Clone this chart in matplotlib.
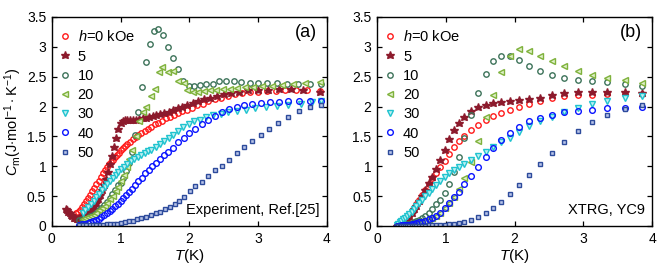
import matplotlib
matplotlib.use("Agg")
import matplotlib.pyplot as plt
from matplotlib.ticker import FormatStrFormatter, MultipleLocator

plt.rcParams['font.family'] = ['Liberation Sans', 'DejaVu Sans']
plt.rcParams['mathtext.fontset'] = 'custom'
plt.rcParams['mathtext.it'] = 'Liberation Sans:italic'
plt.rcParams['mathtext.rm'] = 'Liberation Sans'

# ---------------- (a) experiment, Ref.[25] ----------------
a_T0 = [0.35, 0.38, 0.41, 0.44, 0.47, 0.50, 0.53, 0.56, 0.59, 0.62, 0.65, 0.68, 0.71, 0.74, 0.77,
        0.80, 0.83, 0.86, 0.89, 0.92, 0.95, 0.98, 1.01, 1.04, 1.07, 1.10, 1.14, 1.18, 1.22, 1.26,
        1.30, 1.35, 1.40, 1.45, 1.50, 1.55, 1.60, 1.66, 1.72, 1.78, 1.84, 1.90, 1.97, 2.04, 2.12,
        2.20, 2.28, 2.37, 2.46, 2.56, 2.66, 2.77, 2.88, 3.00, 3.13, 3.26, 3.40, 3.55, 3.72, 3.90]
a_C0 = [0.22, 0.24, 0.27, 0.31, 0.36, 0.41, 0.46, 0.52, 0.58, 0.64, 0.70, 0.76, 0.82, 0.88, 0.93,
        0.98, 1.03, 1.07, 1.11, 1.15, 1.19, 1.23, 1.27, 1.30, 1.34, 1.37, 1.41, 1.45, 1.49, 1.52,
        1.55, 1.59, 1.63, 1.66, 1.70, 1.73, 1.76, 1.80, 1.83, 1.86, 1.89, 1.92, 1.95, 1.98, 2.02,
        2.05, 2.09, 2.12, 2.15, 2.18, 2.21, 2.23, 2.24, 2.25, 2.26, 2.26, 2.27, 2.27, 2.27, 2.26]

a_T5 = [0.20, 0.22, 0.24, 0.26, 0.28, 0.30, 0.32, 0.34, 0.36, 0.38, 0.40, 0.43, 0.46, 0.49, 0.52,
        0.55, 0.58, 0.61, 0.64, 0.67, 0.70, 0.73, 0.76, 0.79, 0.82, 0.85, 0.88, 0.91, 0.94, 0.97,
        1.00, 1.03, 1.06, 1.10, 1.14, 1.18, 1.22, 1.27, 1.32, 1.37, 1.42, 1.47, 1.52, 1.58, 1.64,
        1.70, 1.76, 1.83, 1.90, 1.97, 2.05, 2.13, 2.21, 2.30, 2.40, 2.50, 2.61, 2.73, 2.86, 3.00,
        3.15, 3.31, 3.48, 3.66, 3.90]
a_C5 = [0.29, 0.27, 0.24, 0.21, 0.18, 0.16, 0.14, 0.13, 0.12, 0.12, 0.13, 0.14, 0.16, 0.18, 0.21,
        0.24, 0.28, 0.33, 0.38, 0.45, 0.52, 0.60, 0.68, 0.78, 0.90, 1.03, 1.17, 1.32, 1.48, 1.62,
        1.72, 1.76, 1.77, 1.77, 1.77, 1.78, 1.78, 1.79, 1.80, 1.81, 1.82, 1.84, 1.85, 1.87, 1.89,
        1.91, 1.94, 1.97, 2.00, 2.03, 2.06, 2.09, 2.12, 2.15, 2.18, 2.21, 2.23, 2.25, 2.27, 2.28,
        2.28, 2.29, 2.29, 2.28, 2.25]

a_T10 = [0.40, 0.44, 0.48, 0.52, 0.56, 0.60, 0.64, 0.68, 0.72, 0.76, 0.80, 0.84, 0.88, 0.92, 0.96,
         1.00, 1.04, 1.08, 1.12, 1.16, 1.21, 1.26, 1.31, 1.37, 1.43, 1.49, 1.55, 1.62, 1.69, 1.76,
         1.83, 1.91, 1.99, 2.07, 2.16, 2.25, 2.34, 2.44, 2.54, 2.65, 2.76, 2.88, 3.00, 3.13, 3.27,
         3.42, 3.58, 3.75, 3.92]
a_C10 = [0.10, 0.11, 0.12, 0.14, 0.16, 0.19, 0.22, 0.26, 0.30, 0.35, 0.40, 0.46, 0.53, 0.60, 0.68,
         0.72, 0.80, 0.92, 1.06, 1.24, 1.52, 1.90, 2.32, 2.74, 3.04, 3.27, 3.29, 3.19, 3.00, 2.81,
         2.63, 2.43, 2.35, 2.35, 2.36, 2.37, 2.38, 2.43, 2.43, 2.43, 2.41, 2.40, 2.40, 2.39, 2.39,
         2.38, 2.38, 2.37, 2.38]

a_T20 = [0.45, 0.49, 0.53, 0.57, 0.61, 0.65, 0.69, 0.73, 0.77, 0.81, 0.85, 0.89, 0.93, 0.97, 1.01,
         1.05, 1.09, 1.13, 1.17, 1.22, 1.27, 1.32, 1.37, 1.44, 1.50, 1.56, 1.61, 1.69, 1.76, 1.84,
         1.92, 1.97, 2.05, 2.13, 2.21, 2.30, 2.39, 2.49, 2.59, 2.70, 2.81, 2.93, 3.06, 3.20, 3.35,
         3.51, 3.68, 3.90]
a_C20 = [0.12, 0.13, 0.15, 0.17, 0.19, 0.22, 0.26, 0.30, 0.34, 0.39, 0.45, 0.51, 0.58, 0.66, 0.76,
         0.86, 0.98, 1.12, 1.28, 1.50, 1.76, 1.90, 2.00, 2.17, 2.29, 2.57, 2.67, 2.58, 2.60, 2.43,
         2.40, 2.27, 2.25, 2.25, 2.26, 2.27, 2.28, 2.29, 2.30, 2.31, 2.32, 2.33, 2.34, 2.35, 2.36,
         2.38, 2.40, 2.41]

a_T30 = [0.45, 0.49, 0.53, 0.57, 0.61, 0.65, 0.69, 0.73, 0.77, 0.81, 0.85, 0.89, 0.93, 0.97, 1.01,
         1.05, 1.10, 1.15, 1.20, 1.25, 1.30, 1.35, 1.40, 1.45, 1.51, 1.57, 1.63, 1.70, 1.77, 1.84,
         1.91, 1.99, 2.07, 2.16, 2.25, 2.35, 2.46, 2.57, 2.69, 2.82, 2.96, 3.11, 3.27, 3.44, 3.62,
         3.78, 3.92]
a_C30 = [0.22, 0.27, 0.32, 0.37, 0.42, 0.48, 0.54, 0.60, 0.66, 0.71, 0.76, 0.81, 0.86, 0.90, 0.95,
         0.99, 1.03, 1.08, 1.12, 1.16, 1.19, 1.22, 1.25, 1.28, 1.32, 1.37, 1.42, 1.47, 1.53, 1.59,
         1.65, 1.70, 1.75, 1.78, 1.82, 1.85, 1.87, 1.90, 1.93, 1.95, 1.97, 1.99, 2.01, 2.03, 2.05,
         2.07, 2.09]

a_T40 = [0.40, 0.44, 0.48, 0.52, 0.56, 0.60, 0.64, 0.68, 0.72, 0.76, 0.80, 0.84, 0.88, 0.92, 0.96,
         1.00, 1.04, 1.08, 1.12, 1.16, 1.21, 1.26, 1.31, 1.36, 1.41, 1.46, 1.51, 1.57, 1.63, 1.69,
         1.76, 1.84, 1.92, 2.00, 2.08, 2.18, 2.27, 2.37, 2.47, 2.58, 2.69, 2.79, 2.91, 3.04, 3.17,
         3.30, 3.44, 3.59, 3.75, 3.91]
a_C40 = [0.02, 0.03, 0.04, 0.05, 0.06, 0.08, 0.10, 0.12, 0.15, 0.18, 0.21, 0.25, 0.29, 0.33, 0.37,
         0.42, 0.47, 0.52, 0.57, 0.62, 0.68, 0.75, 0.81, 0.88, 0.94, 1.00, 1.06, 1.12, 1.18, 1.24,
         1.30, 1.40, 1.48, 1.55, 1.63, 1.71, 1.78, 1.84, 1.90, 1.96, 2.00, 2.02, 2.04, 2.06, 2.07,
         2.08, 2.09, 2.09, 2.10, 2.10]

a_T50 = [0.40, 0.45, 0.50, 0.55, 0.60, 0.65, 0.70, 0.75, 0.80, 0.85, 0.90, 0.95, 1.00, 1.06, 1.12,
         1.18, 1.24, 1.30, 1.37, 1.44, 1.51, 1.58, 1.65, 1.72, 1.79, 1.85, 1.92, 2.01, 2.09, 2.18,
         2.27, 2.37, 2.47, 2.58, 2.69, 2.79, 2.91, 3.04, 3.16, 3.29, 3.44, 3.59, 3.75, 3.91]
a_C50 = [0.01, 0.01, 0.01, 0.01, 0.01, 0.02, 0.02, 0.02, 0.03, 0.03, 0.03, 0.04, 0.05, 0.06, 0.08,
         0.09, 0.11, 0.13, 0.15, 0.18, 0.21, 0.24, 0.28, 0.32, 0.37, 0.42, 0.49, 0.59, 0.67, 0.74,
         0.83, 0.93, 1.01, 1.11, 1.22, 1.32, 1.42, 1.52, 1.62, 1.72, 1.83, 1.92, 2.00, 2.03]

# ---------------- (b) XTRG, YC9 ----------------
b_T = [0.29, 0.31, 0.33, 0.35, 0.38, 0.40, 0.43, 0.46, 0.50, 0.53, 0.57, 0.61, 0.65, 0.70, 0.75,
       0.80, 0.85, 0.91, 0.98, 1.05, 1.12, 1.19, 1.27, 1.37, 1.47, 1.58, 1.69, 1.80, 1.93, 2.07,
       2.21, 2.37, 2.54, 2.72, 2.92, 3.13, 3.35, 3.60, 3.86]
b_C0 = [0.00, 0.01, 0.02, 0.04, 0.06, 0.09, 0.12, 0.17, 0.23, 0.29, 0.36, 0.44, 0.52, 0.61, 0.71,
        0.80, 0.89, 0.99, 1.09, 1.20, 1.32, 1.42, 1.51, 1.60, 1.69, 1.77, 1.84, 1.89, 1.94, 2.00,
        2.05, 2.10, 2.14, 2.17, 2.19, 2.20, 2.21, 2.21, 2.21]
b_C5 = [0.00, 0.02, 0.03, 0.05, 0.07, 0.09, 0.12, 0.16, 0.22, 0.28, 0.34, 0.42, 0.50, 0.60, 0.72,
        0.82, 0.95, 1.10, 1.27, 1.45, 1.60, 1.72, 1.83, 1.93, 1.99, 2.03, 2.06, 2.08, 2.10, 2.11,
        2.13, 2.15, 2.19, 2.22, 2.24, 2.25, 2.25, 2.24, 2.23]
b_C10 = [0.00, 0.00, 0.01, 0.01, 0.02, 0.02, 0.03, 0.04, 0.05, 0.06, 0.08, 0.10, 0.13, 0.17, 0.22,
         0.29, 0.36, 0.44, 0.55, 0.70, 0.90, 1.15, 1.48, 1.86, 2.22, 2.55, 2.76, 2.85, 2.84, 2.78,
         2.68, 2.60, 2.53, 2.48, 2.45, 2.43, 2.41, 2.38, 2.35]
b_C20 = [0.00, 0.00, 0.00, 0.01, 0.01, 0.01, 0.02, 0.02, 0.03, 0.03, 0.04, 0.05, 0.06, 0.08, 0.10,
         0.13, 0.17, 0.22, 0.30, 0.38, 0.48, 0.62, 0.81, 1.07, 1.42, 1.82, 2.20, 2.58, 2.85, 2.97,
         2.93, 2.85, 2.77, 2.68, 2.59, 2.53, 2.48, 2.44, 2.40]
b_C30 = [0.02, 0.04, 0.06, 0.08, 0.11, 0.13, 0.16, 0.20, 0.24, 0.28, 0.33, 0.38, 0.43, 0.50, 0.56,
         0.62, 0.68, 0.75, 0.82, 0.88, 0.93, 0.99, 1.04, 1.10, 1.17, 1.24, 1.32, 1.40, 1.48, 1.58,
         1.67, 1.75, 1.82, 1.90, 1.98, 2.05, 2.10, 2.14, 2.17]
b_C40 = [0.00, 0.00, 0.00, 0.01, 0.01, 0.01, 0.02, 0.02, 0.03, 0.04, 0.05, 0.06, 0.07, 0.09, 0.11,
         0.14, 0.17, 0.22, 0.30, 0.38, 0.48, 0.57, 0.70, 0.84, 0.99, 1.15, 1.30, 1.44, 1.56, 1.66,
         1.75, 1.81, 1.86, 1.90, 1.93, 1.95, 1.97, 1.98, 2.00]
b_C50 = [0.00, 0.00, 0.00, 0.00, 0.00, 0.00, 0.00, 0.00, 0.00, 0.00, 0.00, 0.00, 0.00, 0.00, 0.01,
         0.01, 0.01, 0.01, 0.02, 0.03, 0.04, 0.05, 0.07, 0.10, 0.15, 0.22, 0.30, 0.40, 0.53, 0.69,
         0.85, 1.03, 1.22, 1.41, 1.59, 1.74, 1.86, 1.96, 2.02]

labels = ['$h$=0 kOe', '5', '10', '20', '30', '40', '50']
colors = ['#ff1a1a', '#8c1a2c', '#3d735a', '#7fb23c', '#1fc3cf', '#0a14ff', '#2d4b9c']
markers = ['o', '*', 'o', '<', 'v', 'o', 's']
sizes = [3.9, 6.2, 3.9, 4.5, 4.5, 4.1, 3.0]
faces = ['none', None, 'none', '#dff0c8', '#bff0f2', 'none', '#b8c4e8']


def style(ax, letter, note, ylabel):
    ax.set_xlim(0, 4)
    ax.set_ylim(0, 3.5)
    ax.xaxis.set_major_locator(MultipleLocator(1))
    ax.yaxis.set_major_locator(MultipleLocator(0.5))
    ax.yaxis.set_major_formatter(FormatStrFormatter('%g'))
    ax.tick_params(direction='in', top=True, right=True, labelsize=10, length=3.5, width=0.9, pad=4)
    for s in ax.spines.values():
        s.set_linewidth(1.0)
    ax.set_xlabel('$T$(K)', fontsize=11, labelpad=1)
    if ylabel:
        ax.set_ylabel(r'$C_\mathrm{m}$(J$\cdot$mol$^{-1}\cdot$K$^{-1}$)', fontsize=10.5, labelpad=2)
    ax.text(0.965, 0.965, letter, transform=ax.transAxes, ha='right', va='top', fontsize=13)
    ax.text(0.975, 0.045, note, transform=ax.transAxes, ha='right', va='bottom', fontsize=10.5)
    ax.legend(loc='upper left', bbox_to_anchor=(0.02, 0.955), frameon=False, fontsize=10.5,
              handlelength=0.6, handletextpad=0.6, labelspacing=0.36, borderpad=0.2,
              borderaxespad=0.0)


def draw(ax, series):
    for (T, C), lab, c, m, ms, fc in zip(series, labels, colors, markers, sizes, faces):
        ax.plot(T, C, ls='none', marker=m, ms=ms, mec=c, mfc=(c if fc is None else fc),
                mew=1.0, label=lab)


fig = plt.figure(figsize=(6.64, 2.69), dpi=100)
ax1 = fig.add_axes([0.078, 0.160, 0.414, 0.777])
ax2 = fig.add_axes([0.568, 0.160, 0.414, 0.777])

draw(ax1, [(a_T0, a_C0), (a_T5, a_C5), (a_T10, a_C10), (a_T20, a_C20),
           (a_T30, a_C30), (a_T40, a_C40), (a_T50, a_C50)])
draw(ax2, [(b_T, b_C0), (b_T, b_C5), (b_T, b_C10), (b_T, b_C20),
           (b_T, b_C30), (b_T, b_C40), (b_T, b_C50)])

style(ax1, '(a)', 'Experiment, Ref.[25]', True)
style(ax2, '(b)', 'XTRG, YC9', False)

fig.savefig('out.png', dpi=100)
